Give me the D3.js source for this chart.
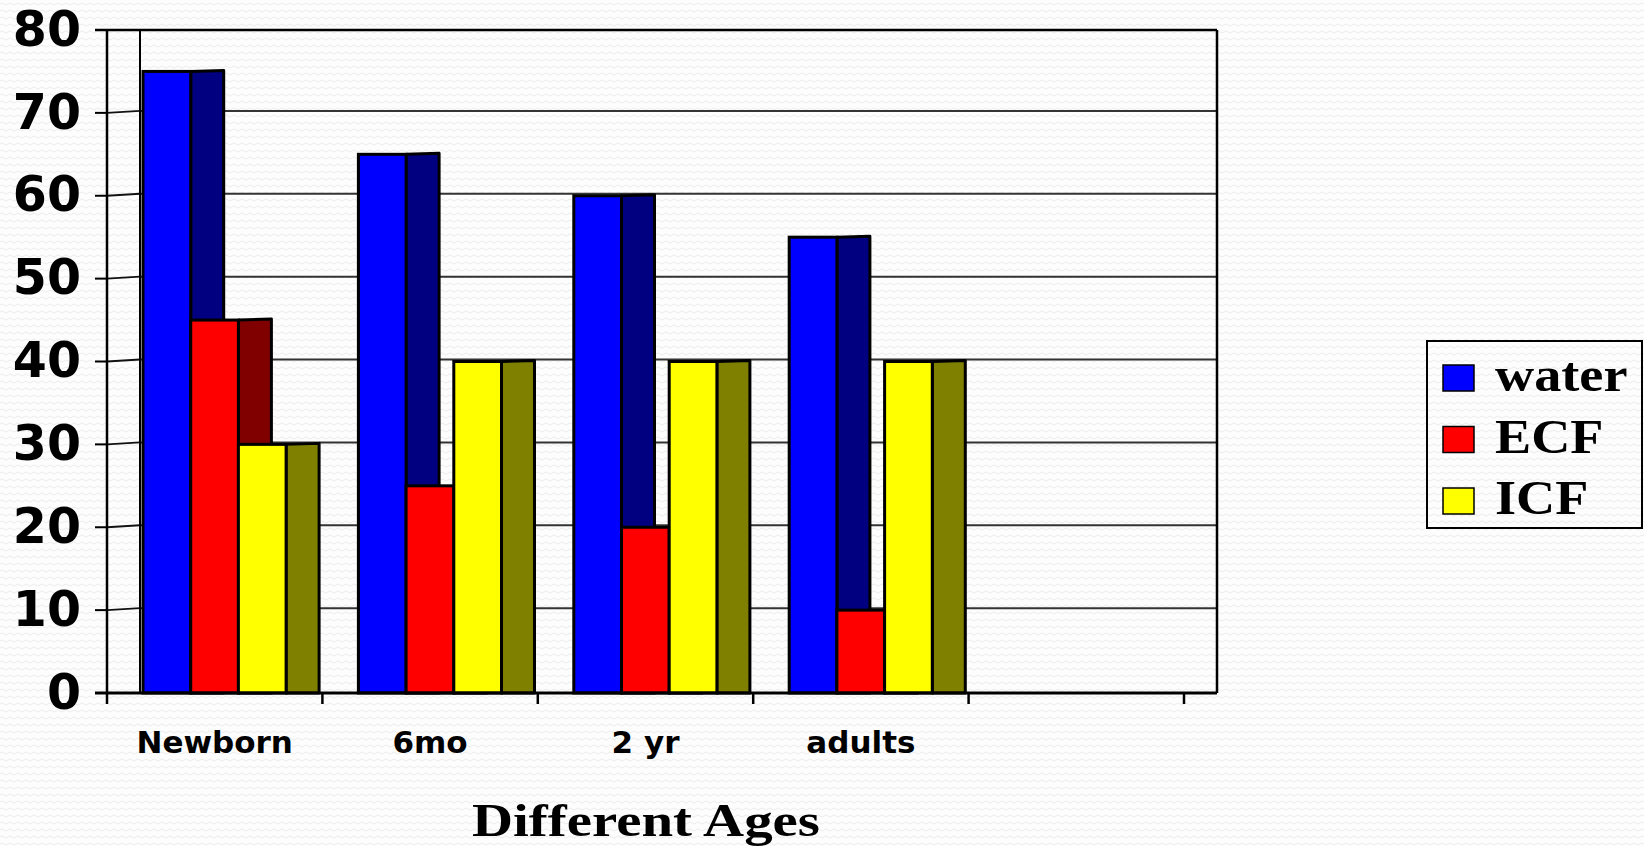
<!DOCTYPE html>
<html>
<head>
<meta charset="utf-8">
<script src="https://cdn.jsdelivr.net/npm/d3@7"></script>
<style>
  html, body { margin: 0; padding: 0; background: #fff; }
  .tick_label { font-family: "DejaVu Sans", sans-serif; font-weight: bold; fill: #000; }
  .serif_label { font-family: "Liberation Serif", "Times New Roman", serif; font-weight: bold; fill: #000; }
</style>
</head>
<body>
<div class="chart_one"></div>
<script>

// values
const ages = ["Newborn", "6mo", "2 yr", "adults", ""]
const series = ["water", "ECF", "ICF"]
const water = [75, 65, 60, 55]
const ecf = [45, 25, 20, 10]
const icf = [30, 40, 40, 40]
const yTicks = [0, 10, 20, 30, 40, 50, 60, 70, 80]

const frontColors = ["#0000ff", "#ff0000", "#ffff00"]
const sideColors = ["#000080", "#800000", "#808000"]

function drawBars () {

const dataset = []
ages.forEach((age, i) => {
	if (water[i] === undefined) return
	dataset.push({age: age, key: "water", s: 0, value: water[i]})
	dataset.push({age: age, key: "ECF", s: 1, value: ecf[i]})
	dataset.push({age: age, key: "ICF", s: 2, value: icf[i]})
})

let dimensions = {
		width: 1644,
		height: 846,
		depth: 33,
		lift: 2,
		margin: {
				top: 30,
				right: 460,
				bottom: 153,
				left: 107,},
		}

dimensions.boundedWidth = 1184 - dimensions.margin.left
dimensions.boundedHeight = dimensions.height
     - dimensions.margin.top
     - dimensions.margin.bottom

const wrapper = d3.select(".chart_one")
		.append("svg")
		.attr("width", dimensions.width)
		.attr("height", dimensions.height)
		.style("display", "block")

// faint wavy background
const pattern = wrapper.append("defs")
	.append("pattern")
	.attr("id", "waves")
	.attr("patternUnits", "userSpaceOnUse")
	.attr("width", 8)
	.attr("height", 7)
pattern.append("rect").attr("width", 8).attr("height", 7).attr("fill", "#fdfdfd")
pattern.append("path")
	.attr("d", "M0 4 Q2 2 4 4 T8 4")
	.attr("fill", "none")
	.attr("stroke", "#ececec")
	.attr("stroke-width", 1)

wrapper.append("rect")
	.attr("width", dimensions.width)
	.attr("height", dimensions.height)
	.attr("fill", "url(#waves)")

const bounds = wrapper.append("g")
		.attr("transform", `translate(${dimensions.margin.left},${dimensions.margin.top})`)

const x = d3.scaleBand()
		.domain(ages)
		.range([0, dimensions.boundedWidth])

const xInner = d3.scaleBand()
		.domain(series)
		.range([36, 36 + 3 * 47.7])

const y = d3.scaleLinear()
		.domain([0, 80])
		.range([dimensions.boundedHeight, 0])

const D = dimensions.depth
const L = dimensions.lift
const right = dimensions.boundedWidth + D

// gridlines on back wall + left wall
const grid = bounds.append("g")
grid.selectAll(".back")
	.data(yTicks.filter(d => d > 0 && d < 80))
	.join("line")
	.attr("x1", D).attr("x2", right)
	.attr("y1", d => y(d) - L).attr("y2", d => y(d) - L)
	.attr("stroke", "#333").attr("stroke-width", 2)
grid.selectAll(".side")
	.data(yTicks.filter(d => d > 0 && d < 80))
	.join("line")
	.attr("x1", 0).attr("x2", D)
	.attr("y1", d => y(d)).attr("y2", d => y(d) - L)
	.attr("stroke", "#111").attr("stroke-width", 2)

// walls
bounds.append("line")
	.attr("x1", -12).attr("x2", right)
	.attr("y1", y(80)).attr("y2", y(80))
	.attr("stroke", "#000").attr("stroke-width", 2.5)
bounds.append("line")
	.attr("x1", D).attr("x2", D)
	.attr("y1", y(80)).attr("y2", y(0))
	.attr("stroke", "#000").attr("stroke-width", 2)
bounds.append("line")
	.attr("x1", right).attr("x2", right)
	.attr("y1", y(80)).attr("y2", y(0))
	.attr("stroke", "#000").attr("stroke-width", 2.5)

// bars: side face then front face, left to right
const bars = bounds.append("g")
dataset.forEach(d => {
	const x0 = x(d.age) + xInner(d.key)
	const w = xInner.bandwidth()
	const top = y(d.value)
	bars.append("polygon")
		.attr("points", [
			[x0 + w, top], [x0 + w + D, top - 1],
			[x0 + w + D, y(0)], [x0 + w, y(0)]].join(" "))
		.attr("fill", sideColors[d.s])
		.attr("stroke", "#000").attr("stroke-width", 3)
		.attr("stroke-linejoin", "round")
	bars.append("rect")
		.attr("x", x0).attr("y", top)
		.attr("width", w).attr("height", y(0) - top)
		.attr("fill", frontColors[d.s])
		.attr("stroke", "#000").attr("stroke-width", 3)
})

// y axis
const yAxis = bounds.append("g")
yAxis.append("line")
	.attr("x1", 0).attr("x2", 0)
	.attr("y1", y(80)).attr("y2", y(0))
	.attr("stroke", "#000").attr("stroke-width", 2.5)
yAxis.selectAll(".tk")
	.data(yTicks)
	.join("line")
	.attr("x1", -12).attr("x2", 0)
	.attr("y1", d => y(d)).attr("y2", d => y(d))
	.attr("stroke", "#000").attr("stroke-width", 2)
yAxis.selectAll("text")
	.data(yTicks)
	.join("text")
	.attr("class", "tick_label")
	.attr("x", -26)
	.attr("y", d => y(d) - 2)
	.attr("dy", "0.36em")
	.attr("text-anchor", "end")
	.style("font-size", "49px")
	.text(d => d)

// x axis
const xAxis = bounds.append("g")
xAxis.append("line")
	.attr("x1", -12).attr("x2", right)
	.attr("y1", y(0)).attr("y2", y(0))
	.attr("stroke", "#000").attr("stroke-width", 3)
xAxis.selectAll(".tk")
	.data(ages.map(a => x(a)).concat([dimensions.boundedWidth]))
	.join("line")
	.attr("x1", d => d).attr("x2", d => d)
	.attr("y1", y(0)).attr("y2", y(0) + 11)
	.attr("stroke", "#000").attr("stroke-width", 2.5)
xAxis.selectAll("text")
	.data(ages)
	.join("text")
	.attr("class", "tick_label")
	.attr("x", d => x(d) + x.bandwidth() / 2)
	.attr("y", y(0) + 60)
	.attr("text-anchor", "middle")
	.style("font-size", "31px")
	.text(d => d)

wrapper.append("text")
	.attr("class", "serif_label")
	.attr("x", 646)
	.attr("y", 836)
	.attr("text-anchor", "middle")
	.attr("textLength", 348)
	.attr("lengthAdjust", "spacingAndGlyphs")
	.style("font-size", "47px")
	.text("Different Ages")

// legend
const legend = wrapper.append("g")
legend.append("rect")
	.attr("x", 1427).attr("y", 341)
	.attr("width", 215).attr("height", 187)
	.attr("fill", "url(#waves)")
	.attr("stroke", "#000").attr("stroke-width", 2)
const item = legend.selectAll(".item")
	.data(series)
	.join("g")
	.attr("transform", (d, i) => `translate(1443,${365 + i * 61.5})`)
item.append("rect")
	.attr("width", 31).attr("height", 26)
	.attr("fill", (d, i) => frontColors[i])
	.attr("stroke", "#000").attr("stroke-width", 1.5)
item.append("text")
	.attr("class", "serif_label")
	.attr("x", 52)
	.attr("y", 26)
	.style("font-size", "48px")
	.text(d => d)
	.each(function () {
		// the slide is stretched sideways a little
		const len = this.getComputedTextLength()
		d3.select(this)
			.attr("textLength", len * 1.13)
			.attr("lengthAdjust", "spacingAndGlyphs")
	})

}

drawBars()
</script>
</body>
</html>
